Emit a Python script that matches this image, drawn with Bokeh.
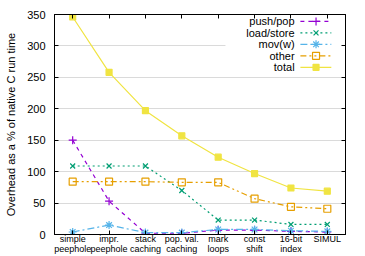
from bokeh.plotting import figure
from bokeh.models import FixedTicker, LinearAxis, Range1d
from bokeh.embed import file_html
from bokeh.resources import INLINE
from bokeh.core.properties import value

# ---- data ----
categories = ["simple\npeephole", "impr.\npeephole", "stack\ncaching", "pop. val.\ncaching",
              "mark\nloops", "const\nshift", "16-bit\nindex", "SIMUL"]
push_pop = [150, 53, 2, 2, 7, 7, 5, 4]
load_store = [109, 109, 109, 70, 23, 23, 16, 16]
mov_w = [4, 15, 3, 3, 8, 8, 6, 5]
other = [84, 84, 84, 83, 83, 57, 44, 41]
total = [346, 258, 197, 157, 123, 97, 74, 69]
series_names = ["push/pop", "load/store", "mov(w)", "other", "total"]
y_ticks = [0, 50, 100, 150, 200, 250, 300, 350]

# ---- styles ----
colors = ["#9400d3", "#009e73", "#56b4e9", "#e69f00", "#f0e442"]
dashes = ["4 4", "2 3", "7 3 2 3", "6 3 2 3 2 3", "solid"]
markers = ["cross", "x", "asterisk", "square", "square"]
fills = [None, None, None, None, "#f0e442"]
msizes = [8, 7, 8, 7, 6]
FONT = "Liberation Sans"

xs = list(range(len(categories)))
series = [push_pop, load_store, mov_w, other, total]

p = figure(width=365, height=256, output_backend="svg", toolbar_location=None,
           x_range=Range1d(-0.5, len(categories) - 0.5), y_range=Range1d(0, 350),
           min_border_left=54, min_border_right=20, min_border_top=14, min_border_bottom=21)
p.background_fill_color = "white"
p.border_fill_color = "white"
p.outline_line_color = "black"
p.outline_line_width = 1

p.xgrid.grid_line_color = None
p.ygrid.grid_line_color = "#dadada"
p.ygrid.grid_line_width = 1
p.ygrid.ticker = FixedTicker(ticks=y_ticks)

# bottom axis
xa = p.xaxis[0]
xa.ticker = FixedTicker(ticks=xs)
xa.major_label_overrides = {i: c for i, c in zip(xs, categories)}
xa.major_label_text_font = FONT
xa.major_label_text_font_size = "9px"
xa.major_label_text_line_height = 1.0
xa.major_label_standoff = -1
xa.major_label_text_color = "black"
xa.major_tick_in = 4
xa.major_tick_out = 0
xa.minor_tick_line_color = None
xa.axis_line_color = "black"

# left axis
ya = p.yaxis[0]
ya.ticker = FixedTicker(ticks=y_ticks)
ya.major_label_text_font = FONT
ya.major_label_text_font_size = "11px"
ya.major_label_text_color = "black"
ya.major_label_standoff = 9
ya.major_tick_in = 4
ya.major_tick_out = 0
ya.minor_tick_line_color = None
ya.axis_label = "Overhead as a % of native C run time"
ya.axis_label_text_font = FONT
ya.axis_label_text_font_size = "11px"
ya.axis_label_text_font_style = "normal"
ya.axis_label_text_color = "black"
ya.axis_label_standoff = 7
ya.axis_line_color = "black"

# mirrored ticks (no labels)
top = LinearAxis(ticker=FixedTicker(ticks=xs), major_tick_in=4, major_tick_out=0,
                 minor_tick_line_color=None,
                 major_label_overrides={i: "" for i in xs},
                 major_label_standoff=0, axis_line_color="black")
p.add_layout(top, "above")
right = LinearAxis(ticker=FixedTicker(ticks=y_ticks), major_tick_in=4, major_tick_out=0,
                   minor_tick_line_color=None,
                   major_label_overrides={t: "" for t in y_ticks},
                   major_label_standoff=0, axis_line_color="black")
p.add_layout(right, "right")

# series
for ys, c, d, m, f, s in zip(series, colors, dashes, markers, fills, msizes):
    p.line(xs, ys, line_color=c, line_dash=d, line_width=1.2)
    p.scatter(xs, ys, marker=m, size=s, line_color=c, fill_color=f, line_width=1.2)

# legend (opaque box, label right-aligned, sample on the right)
leg_box = dict(left=4.2, right=7.45, top=349, bottom=257)
p.quad(**leg_box, fill_color="white", line_color=None)
leg_y = [339, 320.7, 302.5, 284.3, 266]
leg_text_x = 6.10
leg_line_x = [6.26, 7.11]
leg_mark_x = 6.69
p.text([leg_text_x] * len(series_names), leg_y, text=series_names,
       text_align="right", text_baseline="middle", text_font=value(FONT),
       text_font_size="11px", text_color="black")
for yy, c, d, m, f, s in zip(leg_y, colors, dashes, markers, fills, msizes):
    p.line(leg_line_x, [yy, yy], line_color=c, line_dash=d, line_width=1.2)
    p.scatter([leg_mark_x], [yy], marker=m, size=s, line_color=c, fill_color=f, line_width=1.2)

open("out.html", "w").write(file_html(p, INLINE))
